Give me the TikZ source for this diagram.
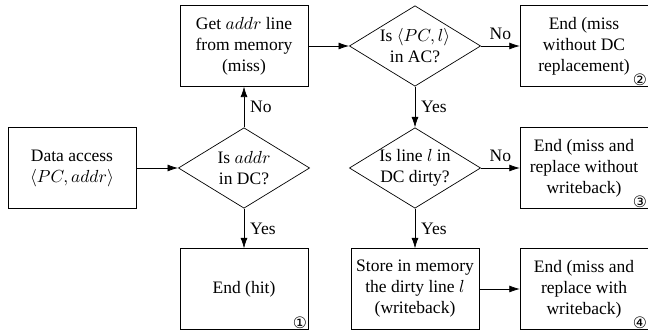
\documentclass[tikz,border=0pt]{standalone}
\usepackage{fontspec}
\setmainfont{Liberation Serif}
\newfontfamily\symfont{DejaVu Sans}
\usetikzlibrary{shapes.geometric,arrows.meta}

\tikzset{
  box/.style={draw, rectangle, minimum width=73pt, minimum height=46pt,
    align=center, inner sep=1pt},
  test/.style={draw, diamond, shape aspect=1.63, minimum width=75pt,
    minimum height=46pt, inner sep=-2pt, align=center},
  flow/.style={-{Latex[length=6pt,width=4pt]}},
  tag/.style={anchor=south east, inner sep=0.5pt, font=\symfont\small}
}

\begin{document}
\begin{tikzpicture}[x=0.5714pt, y=0.5714pt]
  \useasboundingbox (0,0) rectangle (648,335);

  % Boxes
    \node[box] (access) at (72,167) {Data access\\$\langle PC, addr\rangle$};
    \node[box] (get) at (244,289) {Get $addr$ line\\from memory\\(miss)};
    \node[box] (hit) at (244,46) {End (hit)};
    \node[box] (endtwo) at (584,289) {End (miss\\without DC\\replacement)};
    \node[box] (endthree) at (584,167) {End (miss and\\replace without\\writeback)};
    \node[box] (store) at (415,46) {Store in memory\\the dirty line $l$\\(writeback)};
    \node[box] (endfour) at (584,46) {End (miss and\\replace with\\writeback)};

  % Decisions
    \node[test] (dc) at (244,167) {Is $addr$\\in DC?};
    \node[test] (ac) at (415,289) {Is $\langle PC, l\rangle$\\in AC?};
    \node[test] (dirty) at (415,167) {Is line $l$ in\\DC dirty?};

  % Case numbers
    \node[tag] at (hit.south east) {①};
    \node[tag] at (endtwo.south east) {②};
    \node[tag] at (endthree.south east) {③};
    \node[tag] at (endfour.south east) {④};

  % Arrows
    \draw[flow] (access) -- (dc);
    \draw[flow] (dc) -- node[right] {No} (get);
    \draw[flow] (dc) -- node[right] {Yes} (hit);
    \draw[flow] (get) -- (ac);
    \draw[flow] (ac) -- node[above] {No} (endtwo);
    \draw[flow] (ac) -- node[right] {Yes} (dirty);
    \draw[flow] (dirty) -- node[above] {No} (endthree);
    \draw[flow] (dirty) -- node[right] {Yes} (store);
    \draw[flow] (store) -- (endfour);

\end{tikzpicture}
\end{document}
